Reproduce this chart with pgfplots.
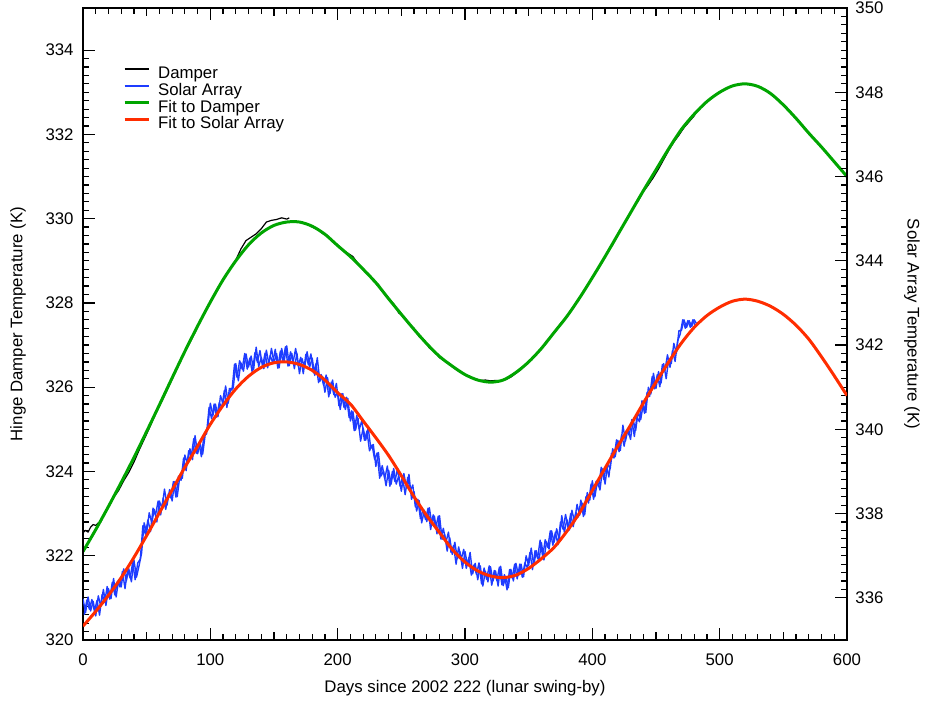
\documentclass[border=0pt]{standalone}
\usepackage{fontspec}
\setmainfont{Liberation Sans}
\usepackage{pgfplots}
\pgfplotsset{compat=1.18}
\definecolor{dblue}{RGB}{30,60,255}
\definecolor{dgreen}{RGB}{0,165,0}
\definecolor{dred}{RGB}{255,45,0}
\pgfplotsset{
 common/.style={
  scale only axis, width=382pt, height=316pt, at={(0,0)}, anchor=south west,
  xmin=0, xmax=600,
  tick align=inside,
  major tick length=6pt, minor tick length=2.8pt,
  every tick/.style={black, line width=0.6pt},
  axis line style={black, line width=0.7pt},
  /pgf/number format/assume math mode=true,
  tick label style={font=\fontsize{8.4}{10}\selectfont},
  scaled ticks=false,
 }
}
\begin{document}
\begin{tikzpicture}
\begin{axis}[common,
 ymin=320, ymax=335,
 xtick={0,100,...,600}, minor x tick num=9,
 extra x ticks={50,150,250,350,450,550}, extra x tick labels={},
 extra x tick style={major tick length=4pt},
 ytick={320,322,...,334}, minor y tick num=9, ytick pos=left,
 xticklabel style={yshift=-3.5pt},
 yticklabel style={xshift=-1.2pt},
 xlabel={Days since 2002 222 (lunar swing-by)},
 ylabel={Hinge Damper Temperature (K)},
 every axis x label/.style={at={(axis description cs:0.5,-0.076)}, anchor=center, font=\fontsize{8.4}{10}\selectfont},
 every axis y label/.style={at={(axis description cs:-0.085,0.5)}, anchor=center, rotate=90, font=\fontsize{8.4}{10}\selectfont},
 legend style={draw=none, fill=none, at={(axis description cs:0.052,0.909)}, anchor=north west,
   font=\fontsize{8.4}{10}\selectfont, row sep=0pt, column sep=4pt, inner sep=0pt,
   nodes={inner sep=0pt, text height=6.4pt, text depth=1.95pt}},
 legend cell align=left,
 legend image code/.code={\draw[#1] (0pt,2.6pt) -- (12pt,2.6pt);},
]
% Damper data (segment 1)
\addplot[black, line width=0.6pt, line join=round] coordinates {
(0,322.55) (2,322.60) (4,322.56) (6,322.68) (8,322.74) (10,322.72) (12,322.78) (14,322.80)
(16,322.95) (20,323.15) (24,323.38) (28,323.55) (32,323.78) (36,323.98) (40,324.22) (44,324.50)
(48,324.76) (52,325.02) (56,325.30) (60,325.55) (64,325.80) (68,326.06) (72,326.32) (76,326.58)
(80,326.84) (84,327.06) (88,327.30) (92,327.56) (96,327.80) (100,328.04) (104,328.25) (108,328.45)
(112,328.66) (116,328.84) (120,329.02) (124,329.28) (128,329.48) (132,329.56) (136,329.64) (140,329.76)
(144,329.92) (148,329.96) (152,329.98) (156,330.02) (160,329.99) (162,330.02)
};
\addlegendentry{Damper}
\addlegendimage{dblue, line width=0.8pt}
\addlegendentry{Solar Array}
% Damper data (segment 2)
\addplot[black, line width=0.6pt, line join=round, forget plot] coordinates {
(172,329.90) (176,329.88) (180,329.80) (184,329.76) (188,329.65) (192,329.60) (196,329.45) (200,329.38)
(204,329.25) (208,329.18) (212,329.10) (216,328.93) (220,328.78) (224,328.70) (228,328.52) (232,328.44)
(236,328.24) (240,328.08) (244,327.98) (248,327.76) (252,327.68) (256,327.50) (260,327.40) (264,327.20)
(268,327.12) (272,326.93) (276,326.86) (280,326.70) (284,326.62) (288,326.56) (292,326.44) (296,326.36)
(300,326.30) (304,326.24) (308,326.20) (312,326.16) (316,326.17) (320,326.15) (324,326.16) (328,326.15)
(332,326.18) (336,326.24) (340,326.33) (344,326.42) (348,326.54) (352,326.64) (356,326.80) (360,326.90)
(364,327.10) (368,327.22) (372,327.36) (376,327.55) (380,327.66) (384,327.84) (388,328.05) (392,328.20)
(396,328.40) (400,328.62) (404,328.78) (408,328.98) (412,329.22) (416,329.38) (420,329.60) (424,329.84)
(428,330.02) (432,330.26) (436,330.42) (440,330.64) (444,330.80) (448,330.98) (452,331.18) (456,331.40)
(460,331.62) (464,331.82) (468,331.98) (472,332.16) (476,332.30) (480,332.44) (482,332.55)
};
% Fit to Damper
\addplot[dgreen, line width=1.5pt, smooth] coordinates {
(0,322.10) (10,322.62) (20,323.17) (30,323.74) (40,324.33) (50,324.95) (60,325.58) (70,326.22)
(80,326.85) (90,327.45) (100,328.02) (110,328.55) (120,329.00) (130,329.38) (140,329.66) (150,329.84)
(160,329.92) (170,329.92) (180,329.82) (190,329.63) (200,329.36) (210,329.10) (220,328.80) (230,328.48)
(240,328.10) (250,327.73) (260,327.37) (270,327.03) (280,326.73) (290,326.50) (300,326.30) (310,326.17)
(320,326.12) (330,326.17) (340,326.35) (350,326.60) (360,326.92) (370,327.30) (380,327.68) (390,328.12)
(400,328.60) (410,329.10) (420,329.62) (430,330.14) (440,330.66) (450,331.16) (460,331.66) (470,332.12)
(480,332.48) (490,332.78) (500,333.00) (510,333.15) (520,333.20) (530,333.14) (540,332.97) (550,332.70)
(560,332.38) (570,332.03) (580,331.70) (590,331.35) (600,331.00)
};
\addlegendentry{Fit to Damper}
\addlegendimage{dred, line width=1.5pt}
\addlegendentry{Fit to Solar Array}
\end{axis}
\begin{axis}[common,
 ymin=335, ymax=350,
 xtick=\empty,
 ytick={336,338,...,350}, minor y tick num=9, ytick pos=right, yticklabel pos=right,
 yticklabel style={xshift=0.7pt},
 ylabel={Solar Array Temperature (K)},
 every axis y label/.style={at={(axis description cs:1.085,0.5)}, anchor=center, rotate=-90, font=\fontsize{8.4}{10}\selectfont},
]
% Solar Array data, even days
\addplot[dblue, line width=0.7pt, line join=round] coordinates {
(0,335.98) (2,335.65) (4,336.02) (6,335.69) (8,335.92) (10,335.57) (12,336.05) (14,335.80)
(16,336.20) (18,335.82) (20,336.22) (22,335.98) (24,336.46) (26,336.02) (28,336.43) (30,336.26)
(32,336.69) (34,336.40) (36,336.69) (38,336.38) (40,336.90) (42,336.49) (44,336.76) (46,337.06)
(48,337.78) (50,337.55) (52,338.02) (54,337.78) (56,338.10) (58,337.80) (60,338.30) (62,338.12)
(64,338.58) (66,338.20) (68,338.57) (70,338.30) (72,338.76) (74,338.40) (76,338.88) (78,338.84)
(80,339.39) (82,339.18) (84,339.54) (86,339.28) (88,339.85) (90,339.42) (92,339.66) (94,339.41)
(96,339.88) (98,340.05) (100,340.62) (102,340.33) (104,340.60) (106,340.30) (108,340.80) (110,340.60)
(112,341.03) (114,340.62) (116,340.97) (118,340.98) (120,341.56) (122,341.15) (124,341.58) (126,341.38)
(128,341.79) (130,341.48) (132,341.74) (134,341.42) (136,341.95) (138,341.49) (140,341.71) (142,341.44)
(144,341.88) (146,341.55) (148,341.92) (150,341.58) (152,341.80) (154,341.46) (156,341.92) (158,341.63)
(160,341.98) (162,341.51) (164,341.80) (166,341.44) (168,341.81) (170,341.32) (172,341.68) (174,341.46)
(176,341.84) (178,341.48) (180,341.69) (182,341.28) (184,341.70) (186,341.14) (188,341.26) (190,340.88)
(192,341.23) (194,340.85) (196,341.17) (198,340.76) (200,340.90) (202,340.47) (204,340.85) (206,340.47)
(208,340.73) (210,340.20) (212,340.42) (214,339.98) (216,340.26) (218,339.72) (220,340.03) (222,339.74)
(224,340.04) (226,339.55) (228,339.64) (230,339.12) (232,339.45) (234,338.89) (236,339.01) (238,338.66)
(240,339.03) (242,338.70) (244,339.07) (246,338.70) (248,338.90) (250,338.53) (252,338.95) (254,338.62)
(256,338.93) (258,338.34) (260,338.52) (262,338.06) (264,338.31) (266,337.78) (268,338.08) (270,337.81)
(272,338.14) (274,337.75) (276,337.94) (278,337.52) (280,337.95) (282,337.39) (284,337.51) (286,337.11)
(288,337.43) (290,337.03) (292,337.32) (294,336.93) (296,337.10) (298,336.70) (300,337.10) (302,336.77)
(304,337.08) (306,336.57) (308,336.82) (310,336.43) (312,336.76) (314,336.28) (316,336.63) (318,336.38)
(320,336.74) (322,336.40) (324,336.64) (326,336.28) (328,336.75) (330,336.29) (332,336.51) (334,336.24)
(336,336.68) (338,336.40) (340,336.82) (342,336.53) (344,336.80) (346,336.50) (348,337.00) (350,336.77)
(352,337.18) (354,336.77) (356,337.12) (358,336.86) (360,337.31) (362,336.90) (364,337.33) (366,337.16)
(368,337.59) (370,337.32) (372,337.64) (374,337.38) (376,337.95) (378,337.56) (380,337.86) (382,337.61)
(384,338.08) (386,337.80) (388,338.22) (390,337.96) (392,338.25) (394,337.97) (396,338.50) (398,338.32)
(400,338.78) (402,338.40) (404,338.77) (406,338.56) (408,339.06) (410,338.70) (412,339.18) (414,339.06)
(416,339.54) (418,339.35) (420,339.74) (422,339.50) (424,340.10) (426,339.72) (428,340.01) (430,339.76)
(432,340.23) (434,339.97) (436,340.42) (438,340.23) (440,340.60) (442,340.40) (444,341.00) (446,340.84)
(448,341.33) (450,340.97) (452,341.37) (454,341.10) (456,341.56) (458,341.20) (460,341.68) (462,341.56)
(464,342.04) (466,341.80) (468,342.34) (470,342.35) (472,342.60) (474,342.42) (476,342.58) (478,342.44)
(480,342.60) (482,342.50)
};
% Solar Array data, odd days
\addplot[dblue, line width=0.7pt, line join=round] coordinates {
(1,335.60) (3,335.95) (5,335.73) (7,335.96) (9,335.68) (11,335.94) (13,335.59) (15,336.08)
(17,335.90) (19,336.27) (21,335.97) (23,336.37) (25,336.07) (27,336.39) (29,336.26) (31,336.63)
(33,336.22) (35,336.67) (37,336.47) (39,336.84) (41,336.43) (43,336.83) (45,336.92) (47,337.71)
(49,337.51) (51,337.85) (53,337.57) (55,338.13) (57,337.97) (59,338.30) (61,337.97) (63,338.37)
(65,338.10) (67,338.47) (69,338.37) (71,338.76) (73,338.39) (75,338.89) (77,338.79) (79,339.32)
(81,339.02) (83,339.49) (85,339.36) (87,339.78) (89,339.43) (91,339.69) (93,339.35) (95,339.86)
(97,339.89) (99,340.52) (101,340.25) (103,340.60) (105,340.29) (107,340.63) (109,340.52) (111,340.92)
(113,340.52) (115,340.97) (117,340.93) (119,341.55) (121,341.23) (123,341.63) (125,341.43) (127,341.80)
(129,341.43) (131,341.69) (133,341.33) (135,341.82) (137,341.59) (139,341.87) (141,341.49) (143,341.81)
(145,341.46) (147,341.75) (149,341.58) (151,341.90) (153,341.45) (155,341.86) (157,341.62) (159,341.96)
(161,341.50) (163,341.84) (165,341.59) (167,341.92) (169,341.50) (171,341.71) (173,341.32) (175,341.78)
(177,341.53) (179,341.79) (181,341.34) (183,341.56) (185,341.11) (187,341.30) (189,341.04) (191,341.29)
(193,340.77) (195,341.12) (197,340.82) (199,341.09) (201,340.56) (203,340.84) (205,340.52) (207,340.76)
(209,340.28) (211,340.44) (213,339.97) (215,340.33) (217,340.00) (219,340.21) (221,339.74) (223,339.96)
(225,339.49) (227,339.63) (229,339.29) (231,339.44) (233,338.84) (235,339.14) (237,338.83) (239,339.13)
(241,338.65) (243,339.00) (245,338.76) (247,339.07) (249,338.65) (251,338.87) (253,338.45) (255,338.86)
(257,338.53) (259,338.68) (261,338.16) (263,338.34) (265,337.88) (267,338.09) (269,337.86) (271,338.13)
(273,337.62) (275,337.97) (277,337.66) (279,337.94) (281,337.40) (283,337.65) (285,337.32) (287,337.56)
(289,337.08) (291,337.24) (293,336.80) (295,337.21) (297,336.92) (299,337.15) (301,336.70) (303,336.95)
(305,336.54) (307,336.78) (309,336.56) (311,336.83) (313,336.33) (315,336.71) (317,336.44) (319,336.76)
(321,336.30) (323,336.65) (325,336.41) (327,336.73) (329,336.31) (331,336.55) (333,336.19) (335,336.67)
(337,336.47) (339,336.80) (341,336.45) (343,336.80) (345,336.49) (347,336.83) (349,336.71) (351,337.08)
(353,336.67) (355,337.12) (357,336.94) (359,337.37) (361,336.98) (363,337.38) (365,337.20) (367,337.59)
(369,337.25) (371,337.56) (373,337.26) (375,337.80) (377,337.63) (379,337.98) (381,337.65) (383,338.00)
(385,337.69) (387,338.03) (389,337.92) (391,338.32) (393,337.93) (395,338.40) (397,338.25) (399,338.70)
(401,338.34) (403,338.77) (405,338.64) (407,339.10) (409,338.81) (411,339.15) (413,338.87) (415,339.43)
(417,339.32) (419,339.75) (421,339.47) (423,339.87) (425,339.60) (427,339.97) (429,339.86) (431,340.23)
(433,339.83) (435,340.30) (437,340.18) (439,340.68) (441,340.38) (443,340.88) (445,340.78) (447,341.25)
(449,340.96) (451,341.30) (453,341.01) (455,341.54) (457,341.39) (459,341.77) (461,341.47) (463,341.87)
(465,341.61) (467,342.10) (469,342.26) (471,342.60) (473,342.40) (475,342.58) (477,342.42) (479,342.60)
(481,342.44)
};
% Fit to Solar Array
\addplot[dred, line width=1.5pt, smooth] coordinates {
(0,335.33) (10,335.68) (20,336.06) (30,336.48) (40,336.96) (50,337.48) (60,338.02) (70,338.56)
(80,339.10) (90,339.60) (100,340.12) (110,340.57) (120,340.96) (130,341.26) (140,341.47) (150,341.58)
(160,341.60) (170,341.54) (180,341.40) (190,341.17) (200,340.87) (210,340.60) (220,340.20) (230,339.80)
(240,339.38) (250,338.90) (260,338.40) (270,337.95) (280,337.55) (290,337.15) (300,336.85) (310,336.64)
(320,336.52) (330,336.48) (340,336.54) (350,336.70) (360,336.93) (370,337.20) (380,337.58) (390,338.02)
(400,338.55) (410,339.08) (420,339.60) (430,340.10) (440,340.62) (450,341.12) (460,341.60) (470,342.05)
(480,342.42) (490,342.70) (500,342.90) (510,343.04) (520,343.09) (530,343.04) (540,342.92) (550,342.73)
(560,342.47) (570,342.14) (580,341.72) (590,341.27) (600,340.80)
};
\end{axis}
\pgfresetboundingbox
\path (-41.5pt,-31pt) rectangle (421pt,320pt);
\end{tikzpicture}
\end{document}
